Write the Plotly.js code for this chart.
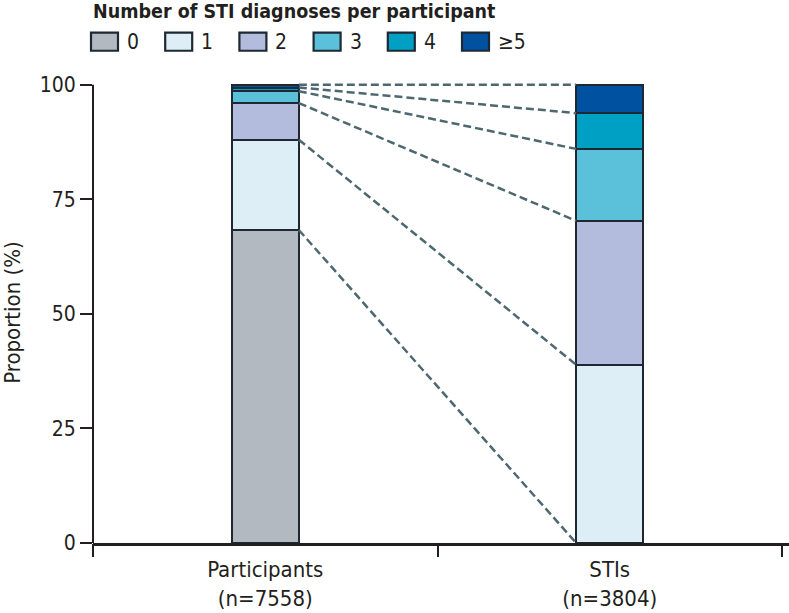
<!DOCTYPE html>
<html>
<head>
<meta charset="utf-8">
<script src="https://cdn.plot.ly/plotly-3.0.1.min.js"></script>
<style>html,body{margin:0;padding:0;background:#fff;}#chart{width:789px;height:613px;}</style>
</head>
<body>
<div id="chart"></div>
<script>
// ---- data ----
var groups = ["Participants<br>(n=7558)", "STIs<br>(n=3804)"];
var groupPos = [0.5, 1.5];
var categories = ["0", "1", "2", "3", "4", "≥5"];
var participants = [68.3, 19.7, 8.0, 2.6, 0.8, 0.6];
var stis = [0, 38.9, 31.4, 15.7, 7.8, 6.2];
var colors = ["#b2b9c1", "#ddeef6", "#b3bcdc", "#5bc0da", "#00a0c4", "#0051a0"];
var yTicks = [0, 25, 50, 75, 100];
var legendTitle = "Number of STI diagnoses per participant";

var FONT = '"DejaVu Sans Condensed", "DejaVu Sans", sans-serif';
var INK = '#231f20';
var EDGE = '#1e2833';
var barWidth = 0.195;
var yMax = 100.6;   // a little headroom so the top connector is not clipped

// plot-area geometry in pixels (for placing the hand-built legend)
var W = 789, H = 613, ML = 93, MR = 0, MT = 82.25, MB = 70;
var PW = W - ML - MR, PH = H - MT - MB;
function px2x(px) { return (px - ML) / PW; }
function px2y(py) { return (H - MB - py) / PH; }

var traces = [];
categories.forEach(function (c, i) {
  traces.push({
    type: 'bar',
    name: c,
    x: groupPos,
    y: [participants[i], stis[i]],
    width: barWidth,
    marker: {color: colors[i], line: {color: EDGE, width: 2}},
    showlegend: false,
    hoverinfo: 'name+y'
  });
});

// dashed connectors between the cumulative boundaries of both bars
var lx = [], ly = [];
var cp = 0, cs = 0;
for (var i = 0; i < categories.length; i++) {
  cp += participants[i];
  cs += stis[i];
  lx.push(groupPos[0] + barWidth / 2, groupPos[1] - barWidth / 2, null);
  ly.push(cp, cs, null);
}
traces.push({
  type: 'scatter', mode: 'lines', x: lx, y: ly, showlegend: false, hoverinfo: 'skip',
  line: {color: '#4d6870', width: 2.5, dash: '8px,4px'}
});
// invisible trace on the overlay axis to carry the tick marks
traces.push({type: 'scatter', mode: 'lines', x: [0, 2], y: [null, null], xaxis: 'x2', showlegend: false, hoverinfo: 'skip'});

// y axis line from 0 to the top tick only
var shapes = [{
  type: 'line', xref: 'paper', yref: 'y', x0: 0, x1: 0,
  y0: yTicks[0], y1: yTicks[yTicks.length - 1], line: {color: INK, width: 2}
}];
// hand-built legend (swatches + labels)
var annotations = [];
annotations.push({
  xref: 'paper', yref: 'paper', x: px2x(91), y: px2y(12), xanchor: 'left', yanchor: 'middle',
  text: '<b>' + legendTitle + '</b>', showarrow: false,
  font: {family: FONT, size: 19.5, color: INK}
});
categories.forEach(function (c, i) {
  var sx = 91 + 74.2 * i;
  shapes.push({
    type: 'rect', xref: 'paper', yref: 'paper',
    x0: px2x(sx), x1: px2x(sx + 27), y0: px2y(51), y1: px2y(33),
    fillcolor: colors[i], line: {color: EDGE, width: 2.2}
  });
  annotations.push({
    xref: 'paper', yref: 'paper', x: px2x(sx + 34), y: px2y(42), xanchor: 'left', yanchor: 'middle',
    text: c, showarrow: false, font: {family: FONT, size: 21, color: INK}
  });
});

var xMax = 2 + 7 / 344.5;
var layout = {
  width: W, height: H,
  margin: {l: ML, r: MR, t: MT, b: MB},
  paper_bgcolor: '#fff', plot_bgcolor: '#fff',
  font: {family: FONT, color: INK, size: 21},
  barmode: 'stack',
  showlegend: false,
  shapes: shapes,
  annotations: annotations,
  xaxis: {
    range: [0, xMax], tickvals: groupPos, ticktext: groups, ticks: '',
    showline: true, linecolor: INK, linewidth: 2.5, showgrid: false, zeroline: false,
    tickfont: {size: 22, family: FONT, color: INK}, ticklabelstandoff: 5, fixedrange: true
  },
  xaxis2: {
    range: [0, xMax], overlaying: 'x', anchor: 'y', side: 'bottom',
    tickvals: [0, 1, 2], ticks: 'outside', ticklen: 13, tickwidth: 2, tickcolor: INK,
    showticklabels: false, showgrid: false, zeroline: false, showline: false
  },
  yaxis: {
    range: [0, yMax], tickvals: yTicks, ticks: 'outside', ticklen: 12, tickwidth: 2, tickcolor: INK,
    showline: false, showgrid: false, zeroline: false,
    tickfont: {size: 21, family: FONT, color: INK},
    title: {text: 'Proportion (%)', font: {size: 22, family: FONT, color: INK}, standoff: 14}
  }
};

Plotly.newPlot('chart', traces, layout, {displayModeBar: false, staticPlot: true});
</script>
</body>
</html>
